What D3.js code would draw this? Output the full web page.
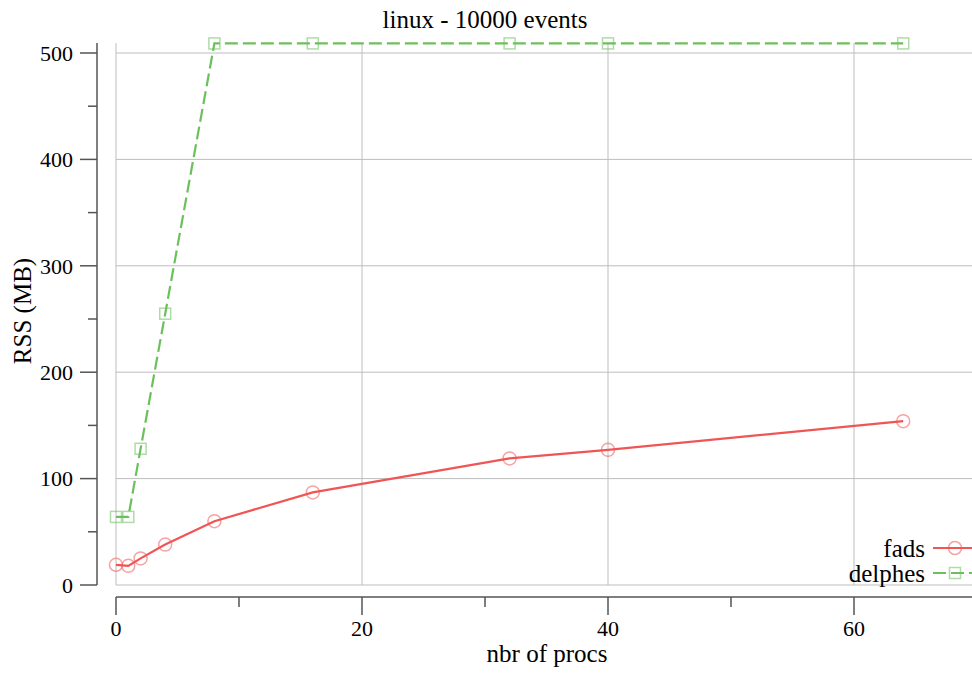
<!DOCTYPE html>
<html><head><meta charset="utf-8">
<script src="https://cdn.jsdelivr.net/npm/d3@7"></script>
<style>body{margin:0;background:#fff}text{font-family:"Liberation Serif","Times New Roman",serif;fill:#000}</style>
</head><body>
<svg id="c" width="972" height="675"></svg>
<script>
const title = "linux - 10000 events";
const xLabel = "nbr of procs";
const yLabel = "RSS (MB)";
const procs = [0, 1, 2, 4, 8, 16, 32, 40, 64];
const fads = [19, 18, 25, 38, 60, 87, 119, 127, 154];
const delphes = [64, 64, 128, 255, 509, 509, 509, 509, 509];
const seriesNames = ["fads", "delphes"];
const xMajorTicks = [0, 20, 40, 60];
const xMinorTicks = [10, 30, 50];
const yMajorTicks = [0, 100, 200, 300, 400, 500];
const yMinorTicks = [50, 150, 250, 350, 450];

const svg = d3.select("#c");
const x = d3.scaleLinear().domain([0, 70]).range([116, 977]);
const y = d3.scaleLinear().domain([0, 500]).range([585, 53]);
const yTop = y(509.4);
const red = "#f05555", green = "#6cc05c";

// grid
const g = svg.append("g");
g.selectAll(".gx").data(xMajorTicks).join("line")
  .attr("x1", d => x(d)).attr("x2", d => x(d)).attr("y1", yTop).attr("y2", y(0))
  .attr("stroke", "#bdbdbd").attr("stroke-width", 1);
g.selectAll(".gy").data(yMajorTicks).join("line")
  .attr("x1", x(0)).attr("x2", 972).attr("y1", d => y(d)).attr("y2", d => y(d))
  .attr("stroke", "#bdbdbd").attr("stroke-width", 1);

// y axis (offset)
const yAxisX = 97;
svg.append("line").attr("x1", yAxisX).attr("x2", yAxisX).attr("y1", yTop).attr("y2", y(0))
  .attr("stroke", "#555").attr("stroke-width", 1.5);
svg.selectAll(".ytm").data(yMajorTicks).join("line")
  .attr("x1", yAxisX - 17).attr("x2", yAxisX).attr("y1", d => y(d)).attr("y2", d => y(d))
  .attr("stroke", "#555").attr("stroke-width", 1.5);
svg.selectAll(".ytn").data(yMinorTicks).join("line")
  .attr("x1", yAxisX - 9).attr("x2", yAxisX).attr("y1", d => y(d)).attr("y2", d => y(d))
  .attr("stroke", "#555").attr("stroke-width", 1.5);
svg.selectAll(".ytl").data(yMajorTicks).join("text")
  .attr("x", 73).attr("y", d => y(d)).attr("dy", "0.35em").attr("text-anchor", "end")
  .style("font-size", "22px").text(d => d);

// x axis (offset)
const xAxisY = 597;
svg.append("line").attr("x1", x(0)).attr("x2", 972).attr("y1", xAxisY).attr("y2", xAxisY)
  .attr("stroke", "#555").attr("stroke-width", 1.5);
svg.selectAll(".xtm").data(xMajorTicks).join("line")
  .attr("x1", d => x(d)).attr("x2", d => x(d)).attr("y1", xAxisY).attr("y2", xAxisY + 18)
  .attr("stroke", "#555").attr("stroke-width", 1.5);
svg.selectAll(".xtn").data(xMinorTicks).join("line")
  .attr("x1", d => x(d)).attr("x2", d => x(d)).attr("y1", xAxisY).attr("y2", xAxisY + 10)
  .attr("stroke", "#555").attr("stroke-width", 1.5);
svg.selectAll(".xtl").data(xMajorTicks).join("text")
  .attr("x", d => x(d)).attr("y", 636).attr("text-anchor", "middle")
  .style("font-size", "22px").text(d => d);

// labels
svg.append("text").attr("x", 485).attr("y", 28).attr("text-anchor", "middle")
  .style("font-size", "25px").text(title);
svg.append("text").attr("x", 547).attr("y", 662).attr("text-anchor", "middle")
  .style("font-size", "25px").text(xLabel);
svg.append("text").attr("transform", "translate(31,311) rotate(-90)").attr("text-anchor", "middle")
  .style("font-size", "25px").text(yLabel);

// lines
const plot = svg.append("g");
const line = d3.line().x(d => x(d[0])).y(d => y(d[1]));
const fadsPts = procs.map((p, i) => [p, fads[i]]);
const delPts = procs.map((p, i) => [p, delphes[i]]);
plot.append("path").attr("d", line(delPts)).attr("fill", "none").attr("stroke", green)
  .attr("stroke-width", 2.2).attr("stroke-dasharray", "13,5");
plot.append("path").attr("d", line(fadsPts)).attr("fill", "none").attr("stroke", red)
  .attr("stroke-width", 2.2);
plot.selectAll(".cm").data(fadsPts).join("circle")
  .attr("cx", d => x(d[0])).attr("cy", d => y(d[1])).attr("r", 6.5)
  .attr("fill", "none").attr("stroke", red).attr("stroke-opacity", 0.55).attr("stroke-width", 1.5);
plot.selectAll(".sm").data(delPts).join("rect")
  .attr("x", d => x(d[0]) - 5.5).attr("y", d => y(d[1]) - 5.5).attr("width", 11).attr("height", 11)
  .attr("fill", "none").attr("stroke", green).attr("stroke-opacity", 0.55).attr("stroke-width", 1.5);

// legend
const leg = svg.append("g");
const legY = [548, 573];
seriesNames.forEach((n, i) => {
  leg.append("text").attr("x", 925).attr("y", legY[i]).attr("dy", "0.35em").attr("text-anchor", "end")
    .style("font-size", "25px").text(n);
  leg.append("line").attr("x1", 933).attr("x2", 980).attr("y1", legY[i]).attr("y2", legY[i])
    .attr("stroke", i === 0 ? red : green).attr("stroke-width", 2.2)
    .attr("stroke-dasharray", i === 0 ? null : "13,5");
  if (i === 0) leg.append("circle").attr("cx", 955).attr("cy", legY[i]).attr("r", 6.5)
    .attr("fill", "none").attr("stroke", red).attr("stroke-opacity", 0.55).attr("stroke-width", 1.5);
  else leg.append("rect").attr("x", 949.5).attr("y", legY[i] - 5.5).attr("width", 11).attr("height", 11)
    .attr("fill", "none").attr("stroke", green).attr("stroke-opacity", 0.55).attr("stroke-width", 1.5);
});
</script>
</body></html>
